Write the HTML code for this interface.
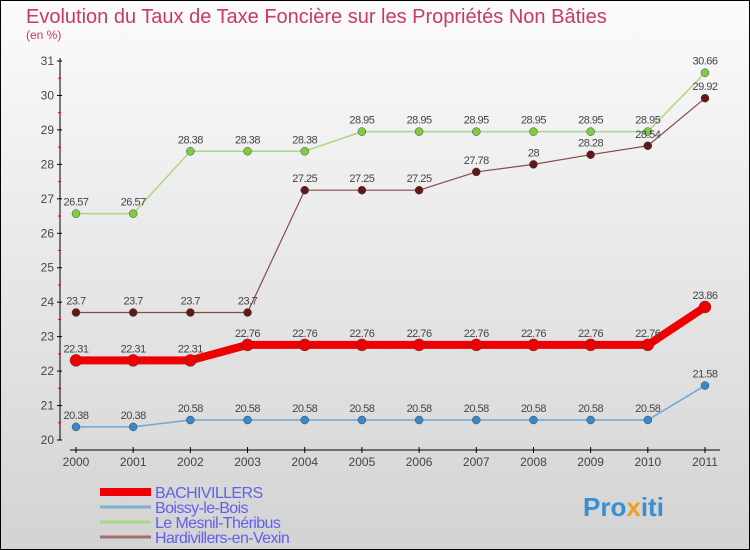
<!DOCTYPE html>
<html><head><meta charset="utf-8"><style>
body{margin:0}
#c{width:750px;height:550px;position:relative;box-sizing:border-box;border:1px solid #000;background:linear-gradient(#fbfbfb,#d3d3d3);font-family:"Liberation Sans",sans-serif;overflow:hidden}
</style></head><body>
<div id="c">
<svg id="s" width="750" height="550" style="position:absolute;left:-1px;top:-1px">
<text x="26" y="23" font-size="20" fill="#c8386a">Evolution du Taux de Taxe Foncière sur les Propriétés Non Bâties</text>
<text x="26" y="39" font-size="12" fill="#c8386a">(en %)</text>
<g id="axes"></g><g id="series"></g><g id="legend"></g>
<text x="583" y="516" font-size="26" font-weight="bold" fill="#3a8fd0">Pro<tspan fill="#f0a020">x</tspan>iti</text>
</svg></div>
<script>
const years=[2000,2001,2002,2003,2004,2005,2006,2007,2008,2009,2010,2011];
const yTicks=[20,21,22,23,24,25,26,27,28,29,30,31];
const bachivillers=[22.31,22.31,22.31,22.76,22.76,22.76,22.76,22.76,22.76,22.76,22.76,23.86];
const boissy=[20.38,20.38,20.58,20.58,20.58,20.58,20.58,20.58,20.58,20.58,20.58,21.58];
const mesnil=[26.57,26.57,28.38,28.38,28.38,28.95,28.95,28.95,28.95,28.95,28.95,30.66];
const hardivillers=[23.7,23.7,23.7,23.7,27.25,27.25,27.25,27.78,28,28.28,28.54,29.92];
const seriesNames=["BACHIVILLERS","Boissy-le-Bois","Le Mesnil-Théribus","Hardivillers-en-Vexin"];
const NS="http://www.w3.org/2000/svg";
const X=i=>76+i*(705-76)/(years.length-1);
const Y=v=>440-(v-20)*(440-61)/11;
function mk(tag,attrs,parent){const e=document.createElementNS(NS,tag);for(const k in attrs)e.setAttribute(k,attrs[k]);parent.appendChild(e);return e;}
const ax=document.getElementById('axes');
let l=mk('line',{x1:60,y1:58,x2:60,y2:440,stroke:'#000','stroke-width':1},ax);


l=mk('line',{x1:70,y1:450,x2:720,y2:450,stroke:'#000','stroke-width':1},ax);


yTicks.forEach(v=>{
 mk('line',{x1:57,y1:Y(v),x2:62,y2:Y(v),stroke:'#000'},ax);
 if(v<31)mk('line',{x1:58,y1:Y(v+0.5),x2:61,y2:Y(v+0.5),stroke:'#e00'},ax);
 const t=mk('text',{x:54,y:Y(v)+4,'font-size':12,'text-anchor':'end',fill:'#444'},ax);t.textContent=v;
 
 
});
years.forEach((yr,i)=>{
 mk('line',{x1:X(i),y1:447,x2:X(i),y2:453,stroke:'#000'},ax);
 const t=mk('text',{x:X(i),y:466,'font-size':12,'text-anchor':'middle',fill:'#444'},ax);t.textContent=yr;
 
 
});
const sg=document.getElementById('series');
function draw(data,color,w,r,fill,name){
 const g=mk('g',{},sg);
 
 
 mk('polyline',{points:data.map((v,i)=>X(i)+','+Y(v)).join(' '),fill:'none',stroke:color,'stroke-width':w,'stroke-linejoin':'round'},g);
 data.forEach((v,i)=>{
  const c=mk('circle',{cx:X(i),cy:Y(v),r:r,fill:fill,stroke:'#444','stroke-width':0.5},g);
  
  
  const t=mk('text',{x:X(i),y:Y(v)-8,'font-size':11,'text-anchor':'middle',fill:'#444','letter-spacing':'-0.5'},g);
  t.textContent=String(v);
  
  
 });
}
draw(mesnil,'#a8d888',1.5,4,'#80cc40','series-le-mesnil-theribus');
draw(hardivillers,'#8a4a4a',1.2,4,'#601818','series-hardivillers-en-vexin');
draw(boissy,'#6aa8d8',1.5,4,'#3a88c8','series-boissy-le-bois');
draw(bachivillers,'#ee0000',8,6,'#ee0000','series-bachivillers');
const lg=document.getElementById('legend');
const lc=['#ee0000','#80b0d0','#a8d888','#a07070'],lw=[8,3,3,3];
seriesNames.forEach((n,i)=>{
 const y=492+i*15;
 const g=mk('g',{},lg);
 
 
 mk('line',{x1:100,y1:y,x2:151,y2:y,stroke:lc[i],'stroke-width':lw[i]},g);
 const t=mk('text',{x:155,y:y+6,'font-size':16,fill:'#6060f0','letter-spacing':'-0.6'},g);t.textContent=n;
});
</script>
</body></html>
